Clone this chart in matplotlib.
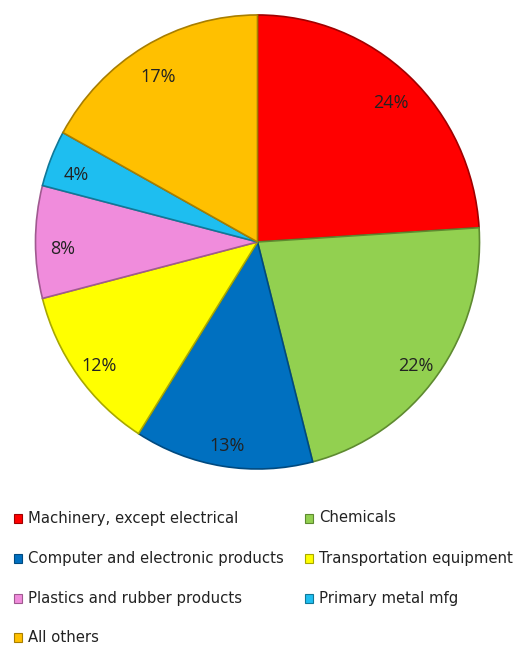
import matplotlib.pyplot as plt
from matplotlib.patches import Rectangle

# Share of total by industry (percent)
categories = ['Machinery, except electrical', 'Chemicals',
              'Computer and electronic products', 'Transportation equipment',
              'Plastics and rubber products', 'Primary metal mfg', 'All others']
shares = [24, 22, 13, 12, 8, 4, 17]
colors = ['#FF0000', '#92D050', '#0070C0', '#FFFF00', '#F08CDC', '#1EBEF0', '#FFC000']
edges = ['#A00000', '#5E8A30', '#004A80', '#A8A800', '#A05A90', '#107898', '#A87E00']

fig = plt.figure(figsize=(5.22, 6.45), dpi=100)

# pie axes (the original is a touch taller than wide)
ax = fig.add_axes([0.068, 0.2729, 0.8506, 0.7039])
wedges, texts, autotexts = ax.pie(
    shares, colors=colors, startangle=90, counterclock=False,
    autopct='%d%%', pctdistance=0.88,
    wedgeprops=dict(linewidth=1.2),
    textprops=dict(fontsize=13, color='#222222', family='Open Sans'))
for w, ec in zip(wedges, edges):
    w.set_edgecolor(ec)
# labels sit a few pixels lower in the original
for t in autotexts:
    t.set_y(t.get_position()[1] - 0.03)
ax.set_xlim(-1.0, 1.0)
ax.set_ylim(-1.0, 1.0)
ax.set_aspect('auto')

# legend drawn by hand in two columns
col_x = [14 / 522, 305 / 522]
row_y = [518, 558, 598, 637]
for i, (lab, c, ec) in enumerate(zip(categories, colors, edges)):
    x = col_x[i % 2]
    y = 1 - row_y[i // 2] / 645
    fig.patches.append(Rectangle((x, y - 4.5 / 645), 8 / 522, 9 / 645,
                                 transform=fig.transFigure, facecolor=c,
                                 edgecolor=ec, linewidth=0.8))
    fig.text(x + 14 / 522, y, lab, fontsize=10.7, va='center', ha='left',
             color='#222222')

fig.savefig('out.png', dpi=100)
